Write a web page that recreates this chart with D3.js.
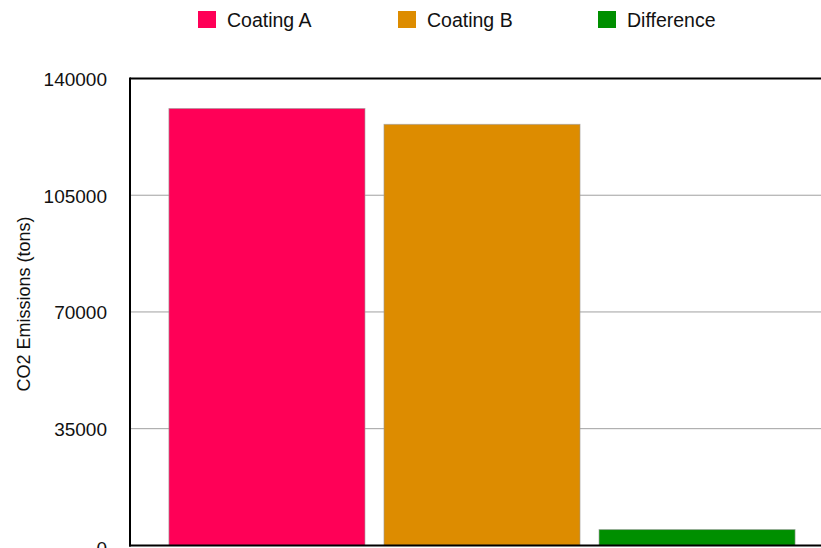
<!DOCTYPE html>
<html><head><meta charset="utf-8">
<script src="https://cdn.jsdelivr.net/npm/d3@7"></script>
<style>body{margin:0;background:#fff;} svg{display:block;font-family:"Liberation Sans",Arial,Helvetica,sans-serif;}</style>
</head><body>
<svg id="c" width="821" height="548"></svg>
<script>
const categories = ["Coating A", "Coating B", "Difference"];
const values = [131000, 126250, 4750];
const colors = ["#ff0057", "#dd8c00", "#008f00"];
const yTicks = [0, 35000, 70000, 105000, 140000];
const yLabel = "CO2 Emissions (tons)";

const svg = d3.select("#c");
const x = d3.scaleBand().domain(categories).range([130, 834]).paddingInner(0.0884).paddingOuter(0.181);
const y = d3.scaleLinear().domain([0, 140000]).range([545.4, 78.5]);

// gridlines
svg.append("g").selectAll("line").data(yTicks.filter(t => t > 0 && t < 140000)).join("line")
  .attr("x1", 130).attr("x2", 834).attr("y1", d => y(d)).attr("y2", d => y(d))
  .attr("stroke", "#a0a0a0").attr("stroke-width", 1);

// bars
svg.append("g").selectAll("rect").data(categories).join("rect")
  .attr("x", d => x(d)).attr("width", x.bandwidth())
  .attr("y", (d, i) => y(values[i])).attr("height", (d, i) => y(0) - y(values[i]))
  .attr("fill", (d, i) => colors[i])
  .attr("stroke", "#999").attr("stroke-opacity", 0.6).attr("stroke-width", 1);

// frame
svg.append("line").attr("x1", 130).attr("x2", 834).attr("y1", y(140000)).attr("y2", y(140000)).attr("stroke", "#000").attr("stroke-width", 2);
svg.append("line").attr("x1", 130).attr("x2", 130).attr("y1", y(140000)-1).attr("y2", y(0)+1).attr("stroke", "#000").attr("stroke-width", 2);
svg.append("line").attr("x1", 129).attr("x2", 834).attr("y1", y(0)).attr("y2", y(0)).attr("stroke", "#000").attr("stroke-width", 2);

// y axis labels
const yAxis = d3.axisLeft(y).tickValues(yTicks).tickSize(0).tickPadding(0).tickFormat(d3.format("d"));
const ga = svg.append("g").attr("transform", "translate(107,0)").call(yAxis);
ga.select(".domain").remove();
ga.selectAll("text").attr("font-size", 19).attr("fill", "#111").attr("dy", d => d === 0 ? "0.48em" : "0.36em")
  .style("font-family", "'Liberation Sans',Arial,sans-serif");

// y label
svg.append("text").attr("transform", "translate(30,304) rotate(-90)")
  .attr("text-anchor", "middle").attr("font-size", 18).attr("fill", "#111").text(yLabel);

// legend
const lx = [198, 398, 598];
const lg = svg.append("g").selectAll("g").data(categories).join("g")
  .attr("transform", (d, i) => `translate(${lx[i]},11)`);
lg.append("rect").attr("width", 18).attr("height", 17).attr("fill", (d, i) => colors[i]);
lg.append("text").attr("x", 29).attr("y", 15.5).attr("font-size", 19.5).attr("fill", "#111").text(d => d);
</script>
</body></html>
